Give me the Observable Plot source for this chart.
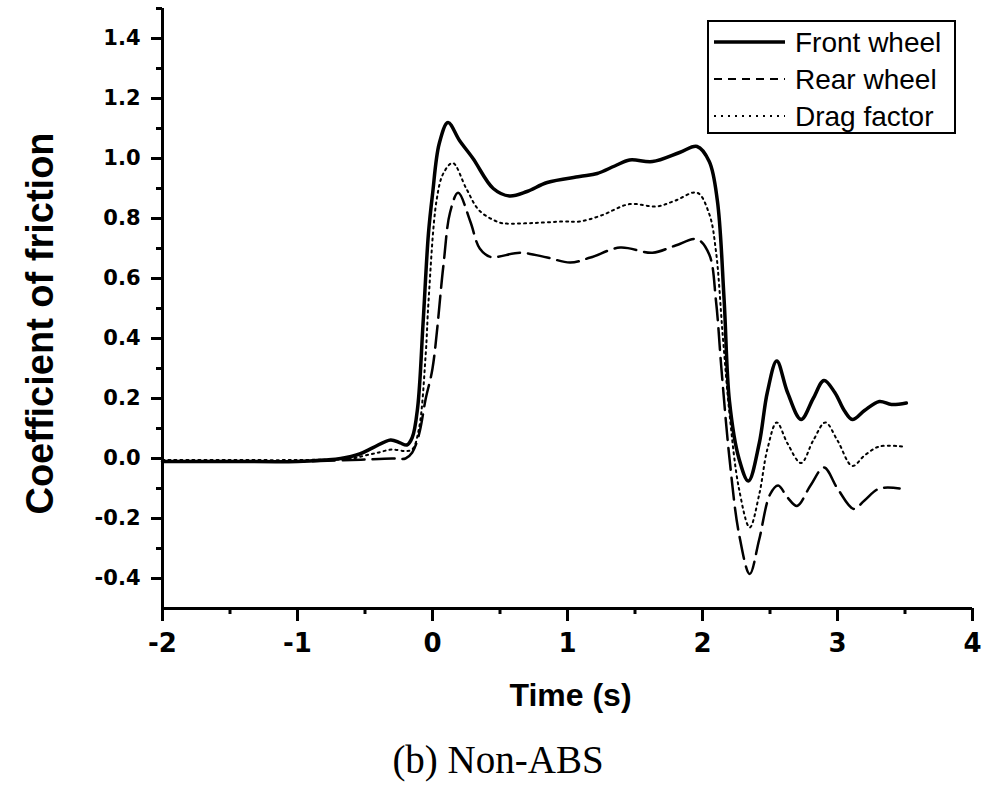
<!DOCTYPE html>
<html><head><meta charset="utf-8">
<script src="https://cdn.jsdelivr.net/npm/d3@7"></script>
<script src="https://cdn.jsdelivr.net/npm/@observablehq/plot@0.6"></script>
<style>
body{margin:0;background:#fff;}
#wrap{position:relative;width:989px;height:785px;background:#fff;overflow:hidden;}
#caption{position:absolute;left:0;top:737px;width:989px;text-align:center;padding-left:7px;box-sizing:border-box;font-family:"Liberation Serif","Times New Roman",serif;font-size:39px;line-height:46px;color:#000;}
#legend{position:absolute;left:0;top:0;pointer-events:none;}
</style></head><body><div id="wrap"></div>
<script>
// Front wheel (solid)
const frontT = [-2, -1.5, -1.0, -0.8, -0.68, -0.54, -0.44, -0.31, -0.24, -0.19, -0.15, -0.11, -0.07, -0.03, 0.0, 0.05, 0.115, 0.2, 0.3, 0.45, 0.57, 0.7, 0.85, 1.09, 1.22, 1.35, 1.46, 1.63, 1.83, 1.96, 2.05, 2.11, 2.16, 2.2, 2.27, 2.34, 2.42, 2.48, 2.55, 2.63, 2.73, 2.82, 2.90, 2.98, 3.05, 3.11, 3.2, 3.31, 3.4, 3.51];
const frontY = [-0.01, -0.01, -0.01, -0.005, 0.0, 0.015, 0.036, 0.062, 0.052, 0.045, 0.07, 0.17, 0.45, 0.75, 0.88, 1.05, 1.12, 1.06, 1.00, 0.90, 0.875, 0.89, 0.92, 0.94, 0.95, 0.975, 0.995, 0.99, 1.02, 1.04, 0.99, 0.86, 0.53, 0.19, 0.0, -0.075, 0.05, 0.22, 0.325, 0.22, 0.13, 0.2, 0.26, 0.22, 0.16, 0.13, 0.16, 0.19, 0.18, 0.185];
// Rear wheel (dashed)
const rearT = [-2, -1.5, -1.0, -0.6, -0.3, -0.2, -0.15, -0.1, -0.05, 0.0, 0.08, 0.13, 0.19, 0.28, 0.35, 0.43, 0.65, 0.85, 1.02, 1.17, 1.39, 1.63, 1.8, 1.96, 2.05, 2.1, 2.14, 2.2, 2.27, 2.35, 2.42, 2.5, 2.56, 2.63, 2.70, 2.8, 2.9, 3.0, 3.12, 3.2, 3.31, 3.46];
const rearY = [-0.01, -0.01, -0.01, -0.005, 0.0, 0.0, 0.02, 0.08, 0.2, 0.30, 0.64, 0.82, 0.886, 0.79, 0.70, 0.672, 0.686, 0.67, 0.653, 0.67, 0.703, 0.686, 0.71, 0.731, 0.68, 0.525, 0.3, 0.0, -0.25, -0.385, -0.27, -0.12, -0.09, -0.13, -0.158, -0.09, -0.03, -0.1, -0.168, -0.14, -0.10, -0.10];
// Drag factor (dotted)
const dragT = [-2, -1.5, -1.0, -0.6, -0.5, -0.4, -0.3, -0.2, -0.15, -0.1, -0.05, -0.03, 0.03, 0.08, 0.15, 0.25, 0.35, 0.5, 0.55, 0.75, 0.97, 1.09, 1.25, 1.46, 1.66, 1.8, 1.96, 2.05, 2.1, 2.15, 2.2, 2.27, 2.35, 2.42, 2.48, 2.55, 2.63, 2.73, 2.82, 2.91, 3.0, 3.11, 3.2, 3.31, 3.48];
const dragY = [-0.005, -0.005, -0.005, 0.0, 0.01, 0.02, 0.03, 0.025, 0.03, 0.1, 0.35, 0.52, 0.86, 0.95, 0.985, 0.90, 0.825, 0.786, 0.783, 0.785, 0.79, 0.79, 0.81, 0.848, 0.84, 0.86, 0.886, 0.815, 0.69, 0.41, 0.15, -0.1, -0.23, -0.12, 0.03, 0.12, 0.05, -0.015, 0.06, 0.12, 0.06, -0.025, 0.01, 0.04, 0.04];

const xMajor = [-2, -1, 0, 1, 2, 3, 4];
const xMinor = [-1.5, -0.5, 0.5, 1.5, 2.5, 3.5];
const yMajor = [-0.4, -0.2, 0, 0.2, 0.4, 0.6, 0.8, 1.0, 1.2, 1.4];
const yMinor = [-0.3, -0.1, 0.1, 0.3, 0.5, 0.7, 0.9, 1.1, 1.3, 1.5];
const seriesNames = ["Front wheel", "Rear wheel", "Drag factor"];
const xLabel = "Time (s)";
const yLabel = "Coefficient of friction";
const captionText = "(b) Non-ABS";

const rows = (T, Y) => T.map((t, i) => ({t, v: Y[i]}));
const front = rows(frontT, frontY);
const rear = rows(rearT, rearY);
const drag = rows(dragT, dragY);

const sansBold = "'DejaVu Sans', sans-serif";
const arial = "'Liberation Sans', Arial, sans-serif";

const plot = Plot.plot({
  width: 989, height: 712,
  marginTop: 8, marginBottom: 104, marginLeft: 162, marginRight: 17,
  x: {domain: [-2, 4]},
  y: {domain: [-0.5, 1.5]},
  style: {background: "white", color: "black", fontFamily: arial, overflow: "visible"},
  marks: [
    Plot.axisX({ticks: xMajor, tickSize: 13, tickPadding: 12, tickFormat: d => String(d), label: null, strokeWidth: 3, fontSize: 26, fontFamily: sansBold, fontWeight: "bold"}),
    Plot.axisX({ticks: xMinor, tickSize: 6, tickFormat: () => "", label: null, strokeWidth: 3}),
    Plot.axisY({ticks: yMajor, tickSize: 11, tickPadding: 11, tickFormat: d => d.toFixed(1), label: null, strokeWidth: 3, fontSize: 21, fontFamily: sansBold, fontWeight: "bold"}),
    Plot.axisY({ticks: yMinor, tickSize: 6, tickFormat: () => "", label: null, strokeWidth: 3}),
    Plot.ruleX([-2], {strokeWidth: 3}),
    Plot.ruleY([-0.5], {strokeWidth: 3}),
    Plot.line(rear, {x: "t", y: "v", curve: "catmull-rom", stroke: "black", strokeWidth: 2.5, strokeDasharray: "22,8"}),
    Plot.line(drag, {x: "t", y: "v", curve: "catmull-rom", stroke: "black", strokeWidth: 2, strokeDasharray: "2,4"}),
    Plot.line(front, {x: "t", y: "v", curve: "catmull-rom", stroke: "black", strokeWidth: 3.5}),
    Plot.text([yLabel], {text: d => d, frameAnchor: "left", textAnchor: "middle", lineAnchor: "middle", dx: -122, dy: 15, rotate: -90, fontSize: 38, fontWeight: "bold", fontFamily: arial}),
    Plot.text([xLabel], {text: d => d, frameAnchor: "bottom", textAnchor: "middle", lineAnchor: "middle", dx: 3, dy: 87, fontSize: 32, fontWeight: "bold", fontFamily: arial})
  ]
});

const wrap = document.getElementById("wrap");
wrap.appendChild(plot);

// Legend
const leg = d3.select(wrap).append("svg").attr("id", "legend").attr("width", 989).attr("height", 712);
leg.append("rect").attr("x", 708).attr("y", 21).attr("width", 247).attr("height", 112)
  .attr("fill", "white").attr("stroke", "black").attr("stroke-width", 2);
const dashes = [null, "8,6", "2,5"];
const widths = [3.5, 2, 2];
const rowY = [42, 79, 116];
seriesNames.forEach((name, i) => {
  const ln = leg.append("line").attr("x1", 714).attr("x2", 785).attr("y1", rowY[i]).attr("y2", rowY[i])
    .attr("stroke", "black").attr("stroke-width", widths[i]);
  if (dashes[i]) ln.attr("stroke-dasharray", dashes[i]);
  leg.append("text").attr("x", 795).attr("y", rowY[i]).attr("dy", "0.36em")
    .attr("font-family", arial).attr("font-size", 28).attr("fill", "black").text(name);
});

const cap = document.createElement("div");
cap.id = "caption";
cap.textContent = captionText;
wrap.appendChild(cap);
</script>
</body></html>
